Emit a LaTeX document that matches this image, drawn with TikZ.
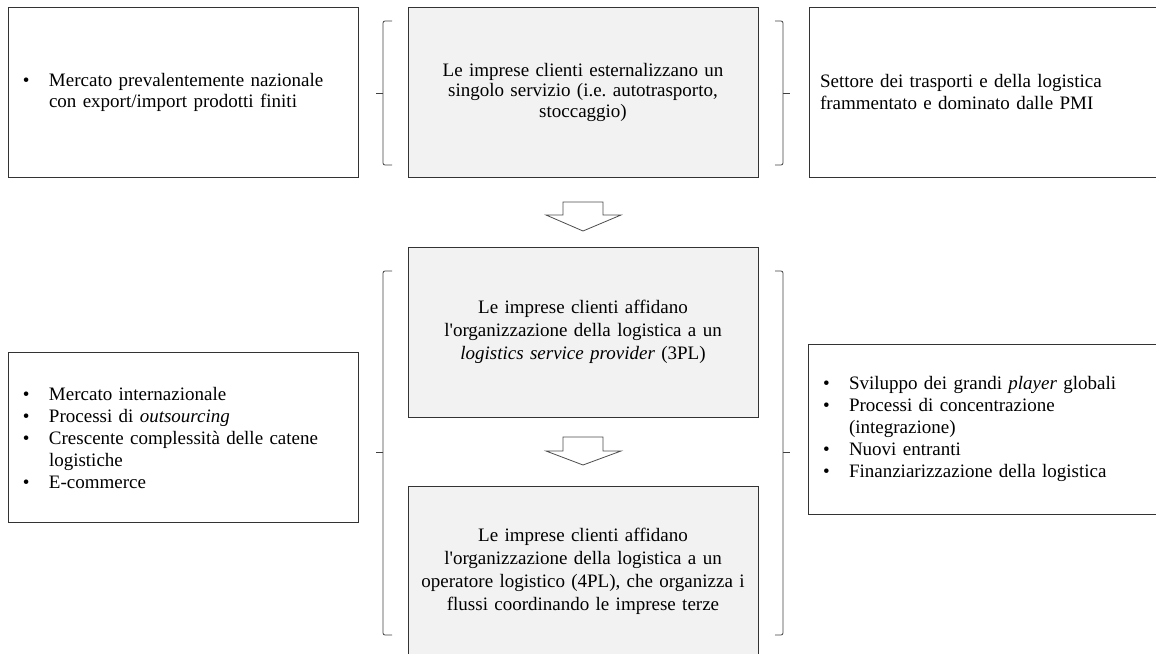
\documentclass[tikz,border=0pt]{standalone}
\usepackage{fontspec}
\setmainfont{Liberation Serif}[Ligatures=TeXOff]
\frenchspacing
\newcommand{\bulitem}{\makebox[26pt][l]{•}}
\newcommand{\bulcont}{\hspace*{26pt}}
\begin{document}
\begin{tikzpicture}[
    x=1pt, y=-1pt,
    box/.style={
        rectangle,
        draw=black!80,
        line width=0.8pt,
        minimum width=350pt,
        minimum height=170pt,
        inner xsep=15pt,
        text width=320pt,
        align=left,
        font=\fontsize{19}{22}\selectfont
    },
    stage/.style={
        box,
        fill=black!5,
        inner xsep=5pt,
        text width=340pt,
        align=center,
        font=\fontsize{19}{23}\selectfont
    },
    brace/.style={draw=black!75, line width=0.8pt, rounded corners=2pt},
    hollow/.style={draw=black!70, fill=white, line width=0.8pt}
]
\useasboundingbox (0,0) rectangle (1156,653);

% Phase 1
\node[box, font=\fontsize{19}{21}\selectfont] (mkt1) at (183,92)
    {\bulitem Mercato prevalentemente nazionale\\\bulcont con export/import prodotti finiti};
\node[stage, font=\fontsize{19}{20.5}\selectfont] (s1) at (583,92)
    {Le imprese clienti esternalizzano un\\singolo servizio (i.e. autotrasporto,\\stoccaggio)};
\node[box, inner xsep=11pt, text width=328pt, font=\fontsize{19}{21}\selectfont] (sec1) at (984,92)
    {Settore dei trasporti e della logistica\\frammentato e dominato dalle PMI};

\draw[brace] (392,21) -| (383,165) -- (392,165);
\draw[brace] (383,93) -- (376,93);
\draw[brace] (775,21) -| (783,165) -- (775,165);
\draw[brace] (783,93) -- (790,93);

\draw[hollow] (563,202) -- (603,202) -- (603,215) -- (621,215) -- (583,231)
    -- (546,215) -- (563,215) -- cycle;

% Phase 2 and 3
\node[stage] (s2) at (583,332)
    {Le imprese clienti affidano\\l'organizzazione della logistica a un\\\textit{logistics service provider} (3PL)};
\node[stage] (s3) at (583,571)
    {Le imprese clienti affidano\\l'organizzazione della logistica a un\\operatore logistico (4PL), che organizza i\\flussi coordinando le imprese terze};

\draw[hollow] (563,437) -- (603,437) -- (603,451) -- (621,451) -- (583,465)
    -- (546,451) -- (563,451) -- cycle;

\node[box] (mkt2) at (183,437.5)
    {\bulitem Mercato internazionale\\\bulitem Processi di \textit{outsourcing}\\\bulitem Crescente complessità delle catene\\\bulcont logistiche\\\bulitem E-commerce};
\node[box] (sec2) at (983,429)
    {\bulitem Sviluppo dei grandi \textit{player} globali\\\bulitem Processi di concentrazione\\\bulcont (integrazione)\\\bulitem Nuovi entranti\\\bulitem Finanziarizzazione della logistica};

\draw[brace] (392,271) -| (383,635) -- (392,635);
\draw[brace] (383,452) -- (376,452);
\draw[brace] (775,271) -| (783,635) -- (775,635);
\draw[brace] (783,452) -- (790,452);

\end{tikzpicture}
\end{document}
